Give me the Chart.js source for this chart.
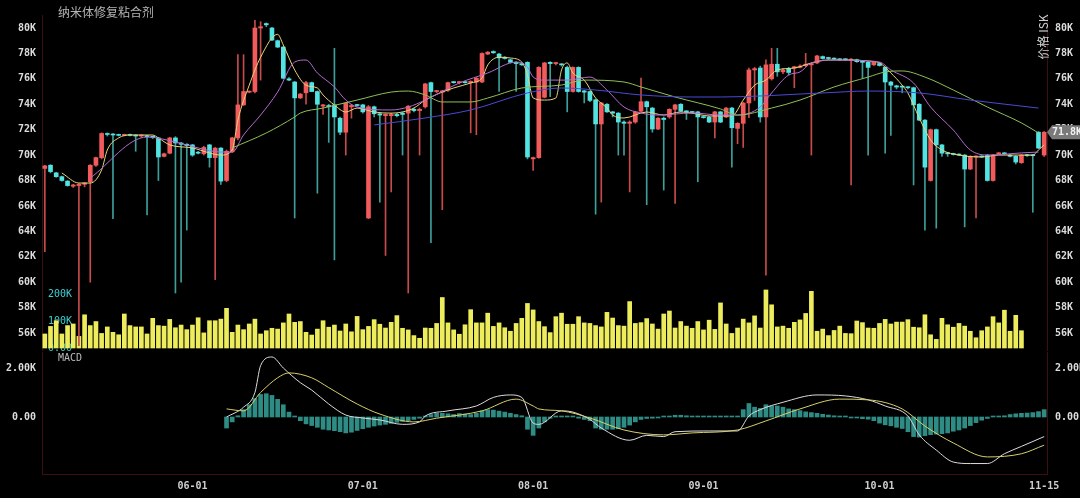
<!DOCTYPE html>
<html><head><meta charset="utf-8">
<script src="https://cdn.jsdelivr.net/npm/chart.js@4.4.1/dist/chart.umd.min.js"></script>
<style>
html,body{margin:0;padding:0;background:#000;overflow:hidden;}
#wrap{position:relative;width:1080px;height:498px;background:#000;}
#c1{position:absolute;left:0;top:0;}
#c2{position:absolute;left:0;top:350px;}
</style></head><body>
<div id="wrap">
<canvas id="c1" width="1080" height="351"></canvas>
<canvas id="c2" width="1080" height="148"></canvas>
</div>
<script>
// ---------- DATA (prices in K ISK, volume in K) ----------
const title = '纳米体修复粘合剂';
const axisTitle = '价格 ISK';
const tickIdx = [26, 56, 86, 116, 147, 176];
const tickText = ['06-01', '07-01', '08-01', '09-01', '10-01', '11-15'];
const priceTicks = [56, 58, 60, 62, 64, 66, 68, 70, 72, 74, 76, 78, 80];
const volTicks = [0, 100, 200];
const macdTicks = [0, 2];
const lastPrice = 71.8;

const opens = [68.95,69.2,68.6,68.3,67.95,67.55,67.6,67.7,67.9,69.2,69.8,71.7,71.65,71.6,71.55,71.6,71.55,71.5,71.5,71.45,
71.35,69.9,70.15,71.35,70.95,70.85,70.8,70.2,70.1,70.8,69.8,70.55,68.0,70.25,71.35,73.95,74.95,75.0,80.0,80.35,
80.0,79.0,78.5,76.0,75.75,74.5,74.9,75.7,75.0,73.85,73.9,73.95,72.9,71.8,73.8,73.95,73.95,65.05,73.8,73.25,
73.1,73.1,73.2,73.3,73.3,73.6,73.5,73.8,75.7,75.0,74.95,75.1,75.75,75.7,75.75,75.7,75.75,75.75,77.95,78.15,
77.95,77.7,77.5,77.3,77.2,77.3,69.7,69.8,74.55,77.3,77.2,77.15,76.9,75.0,76.9,75.05,75.0,74.35,72.45,74.0,
73.4,73.3,72.6,72.5,72.6,73.45,74.2,73.7,72.05,72.9,73.0,73.6,74.0,73.45,73.4,73.4,73.0,73.0,72.6,73.4,
73.0,73.7,72.1,72.5,74.1,76.7,76.85,73.0,76.0,77.15,76.55,76.8,76.85,76.9,77.05,77.1,77.25,77.75,77.65,77.6,
77.55,77.55,77.45,77.5,77.35,77.3,77.1,77.2,76.9,75.75,75.45,75.4,75.35,75.3,74.0,72.75,68.0,72.0,70.8,70.15,
70.1,70.05,70.0,68.9,69.85,69.9,70.0,68.0,70.1,70.15,70.0,69.9,69.4,70.0,70.0,71.8,70.0];
const highs = [69.2,69.25,68.65,68.35,68.0,67.7,67.75,67.85,69.25,69.85,71.75,71.75,71.7,71.65,71.65,71.65,71.6,71.6,71.55,71.5,
71.4,70.15,71.4,71.45,71.0,70.9,70.85,70.3,70.7,70.85,70.6,70.6,70.4,71.4,77.9,77.9,75.05,80.6,80.5,80.4,
80.05,79.05,78.55,76.1,75.8,74.85,75.8,75.75,75.05,74.0,74.0,78.4,73.0,74.15,74.0,74.0,74.0,73.9,73.85,73.3,
73.25,73.3,73.3,73.4,73.9,73.7,73.7,75.65,75.75,75.1,75.1,75.75,75.8,75.8,75.8,75.85,76.1,78.05,78.15,78.2,
78.0,77.75,77.55,77.35,77.25,77.35,69.85,76.95,77.3,77.35,77.3,77.2,77.0,76.95,76.95,75.1,75.05,74.4,74.15,74.05,
73.45,73.35,72.7,72.7,73.45,76.05,74.25,73.75,72.95,73.0,73.65,74.0,74.05,73.5,73.45,73.45,73.05,73.05,73.45,73.45,
73.75,73.75,72.55,74.15,76.85,76.9,77.0,77.5,78.4,78.4,76.8,76.9,77.0,77.1,78.0,77.25,77.85,77.8,77.7,77.65,
77.6,77.6,77.6,77.55,77.4,77.35,77.4,77.3,76.95,75.8,75.5,75.45,75.4,75.35,74.05,72.8,72.05,72.05,70.85,70.2,
70.15,70.1,70.05,69.95,69.95,69.95,70.05,70.05,70.2,70.2,70.05,69.95,70.05,70.05,70.05,71.85,71.85];
const lows = [62.4,68.6,68.25,67.95,67.55,67.45,55.0,67.5,60.0,69.1,69.7,71.5,65.0,71.5,71.5,71.5,70.3,71.4,65.3,71.3,
68.0,69.85,70.1,59.15,60.0,64.1,69.9,70.1,70.0,69.05,60.2,67.7,67.9,70.2,71.2,73.9,74.9,74.9,75.9,80.1,
79.0,78.45,76.0,75.85,65.05,74.45,74.0,75.0,67.0,73.2,71.0,61.75,71.6,70.0,72.9,73.85,73.3,65.0,73.0,66.3,
62.1,67.1,73.0,70.0,59.15,73.4,70.0,73.7,63.1,74.9,65.7,75.0,75.65,75.6,75.65,71.75,71.6,75.7,77.9,78.0,
75.0,77.55,77.25,75.0,77.05,69.7,68.8,69.75,74.5,74.6,77.1,77.0,73.4,74.95,74.95,74.1,74.2,65.35,66.3,73.35,
73.0,70.0,70.0,67.1,72.5,73.4,66.1,71.8,72.0,67.25,72.9,66.2,73.4,72.8,73.3,67.9,72.9,72.55,71.35,72.55,
72.95,69.05,70.9,70.6,72.95,74.3,72.6,60.55,75.9,76.2,76.4,76.3,75.3,76.85,76.95,70.0,77.2,77.55,77.5,77.5,
77.45,77.45,67.65,77.3,76.05,70.0,77.05,77.0,70.15,71.55,75.2,74.9,75.2,67.65,72.7,64.1,67.95,64.25,69.9,69.9,
70.0,69.95,64.35,68.85,65.05,69.8,67.95,67.95,70.05,70.05,69.85,69.3,69.35,69.9,65.5,70.5,69.9];
const closes = [69.15,68.7,68.3,68.0,67.6,67.65,67.7,67.8,69.2,69.8,71.7,71.62,71.58,71.55,71.6,71.55,71.5,71.55,71.45,71.4,
69.85,70.1,71.35,70.95,70.85,70.75,70.0,70.15,70.6,69.8,70.55,67.95,70.3,71.35,73.95,75.0,75.02,80.0,80.1,80.25,
79.05,78.5,76.05,75.9,74.5,74.8,75.7,75.0,74.0,73.95,73.8,73.0,71.8,74.1,73.9,73.9,73.4,73.8,73.25,73.15,
73.2,73.2,73.1,73.2,73.85,73.5,73.6,75.6,75.0,75.05,75.05,75.7,75.7,75.75,75.7,75.8,76.05,78.0,78.1,78.05,
77.65,77.6,77.3,77.2,77.1,69.85,69.8,76.9,77.25,77.2,77.25,77.1,75.0,76.9,75.0,74.95,74.3,72.45,74.1,73.4,
73.3,72.6,72.5,72.6,73.4,74.2,73.8,72.05,72.9,72.8,73.6,73.95,73.45,73.4,73.35,73.0,72.95,72.6,73.4,72.6,
73.7,72.15,72.5,74.1,76.7,76.8,73.0,77.1,77.15,76.55,76.7,76.5,76.95,77.0,77.15,77.2,77.8,77.6,77.6,77.55,
77.5,77.5,77.55,77.35,77.3,76.9,77.35,77.05,75.75,75.5,75.35,75.35,75.3,73.95,72.75,69.05,72.0,70.8,70.15,70.1,
70.05,70.0,68.9,69.9,69.9,69.85,68.0,70.0,70.15,70.1,69.9,69.45,70.0,69.95,69.95,70.55,71.8];

const volumes = [52,80,101,52,83,89,43,123,83,98,54,78,58,49,126,83,78,78,52,110,83,81,106,75,85,68,85,112,56,101,
101,107,147,58,85,68,89,107,52,64,73,70,93,126,95,98,58,48,70,101,77,85,63,89,60,117,
68,80,105,88,74,95,120,73,67,46,36,74,73,91,187,93,67,51,86,142,93,93,129,80,93,75,62,91,110,165,
141,98,79,57,116,129,88,88,116,93,91,83,78,132,111,83,81,172,91,94,109,89,70,126,137,74,98,81,73,98,
67,103,69,
167,89,54,74,107,93,119,74,215,160,78,81,73,95,104,128,210,62,70,46,65,81,54,53,100,94,74,73,91,106,
89,96,96,105,77,75,123,49,32,110,86,77,91,81,62,38,64,78,116,93,140,62,121,64];

// moving averages: [candle index, value]
const ma5Pts = [[3,68.59],[6,67.8],[8,67.8],[10,68.83],[11,70.4],[13,71.35],[15,71.58],[19,71.58],[20,71.35],[22,70.8],
[26,70.56],[29,70.17],[31,70.0],[33,70.4],[34,72.76],[36,75.5],[38,77.7],[41,79.5],[42,78.66],[44,76.7],[46,75.5],
[48,75.28],[49,74.73],[51,73.94],[53,73.39],[55,73.7],[58,73.39],[61,73.3],[63,73.39],[65,73.7],[67,74.33],[70,74.96],
[72,75.28],[75,75.67],[77,76.07],[78,77.09],[80,77.7],[82,77.64],[84,77.32],[85,76.3],[86,74.49],[88,74.33],[90,74.49],
[91,76.7],[92,77.25],[93,76.46],[95,75.9],[97,74.49],[99,73.7],[100,73.15],[102,72.92],[106,73.39],[109,73.15],
[112,73.39],[114,73.3],[117,73.08],[121,73.08],[123,74.33],[125,75.5],[127,75.9],[129,76.7],[132,76.85],[135,77.25],
[138,77.48],[142,77.48],[145,77.4],[147,77.25],[149,76.46],[151,75.5],[152,74.89],[154,72.92],[156,71.19],[158,70.4],
[161,70.0],[165,69.85],[168,70.0],[172,70.0],[174,70.0],[175,70.4],[176,70.8]];
const ma10Pts = [[8,68.2],[18,71.42],[23,71.03],[27,70.56],[31,70.24],[33,70.24],[35,71.58],[38,73.15],[41,74.96],
[44,77.32],[46,77.48],[48,76.46],[51,75.36],[53,74.33],[55,73.78],[61,73.55],[64,73.78],[67,74.33],[73,75.67],
[78,76.46],[83,77.32],[85,76.93],[86,76.14],[88,75.9],[92,75.9],[96,76.14],[99,75.12],[102,73.78],[105,73.31],
[108,73.15],[114,73.31],[119,73.15],[122,73.15],[126,73.78],[128,74.89],[131,76.3],[133,76.54],[135,77.25],
[139,77.48],[147,77.32],[149,76.7],[153,75.67],[156,73.78],[160,71.97],[163,70.4],[166,70.0],[172,70.17],[175,70.24]];
const ma30Pts = [[33,70.56],[39,71.74],[44,73.0],[45,73.31],[49,73.7],[55,74.33],[61,74.96],[64,75.04],[67,74.73],
[70,74.18],[75,74.18],[78,74.49],[84,75.28],[91,75.51],[95,75.9],[102,75.75],[105,75.36],[111,74.57],[119,73.63],
[122,73.15],[128,73.7],[133,74.33],[139,75.36],[145,76.14],[148,76.54],[151,76.62],[155,76.14],[160,75.12],
[166,73.78],[172,72.53],[175,71.74]];
const ma60Pts = [[58,72.37],[67,72.92],[75,73.55],[85,74.89],[91,75.28],[97,75.12],[105,74.73],[114,74.57],
[119,74.57],[137,74.89],[145,75.04],[154,74.89],[163,74.33],[175,73.7]];

// MACD (K): DIF, DEA points and histogram from index 32
const difPts = [[32,0.0],[35,0.4],[37,1.0],[38,2.1],[40,2.45],[42,2.0],[45,1.4],[47,1.1],[50,0.53],[53,0.08],[56,-0.04],
[59,-0.12],[63,-0.3],[66,-0.2],[67,0.04],[71,0.25],[76,0.45],[79,0.8],[82,0.9],[84,0.8],[86,-0.25],[87,-0.3],[91,0.25],
[93,0.2],[96,-0.1],[98,-0.45],[103,-0.95],[106,-0.75],[109,-0.8],[111,-0.6],[117,-0.57],[122,-0.57],[124,0.04],
[126,0.3],[130,0.6],[136,0.9],[141,0.86],[145,0.7],[148,0.45],[152,0.04],[154,-0.73],[157,-1.35],[160,-1.84],
[163,-1.9],[166,-1.9],[169,-1.5],[172,-1.2],[176,-0.8]];
const deaPts = [[32,0.33],[35,0.25],[38,1.0],[41,1.6],[43,1.8],[47,1.6],[50,1.2],[55,0.53],[59,0.12],[65,-0.2],
[69,-0.05],[77,0.25],[83,0.73],[86,0.45],[87,0.33],[91,0.25],[96,-0.04],[102,-0.53],[109,-0.73],[114,-0.65],
[122,-0.53],[127,-0.16],[133,0.33],[140,0.73],[145,0.7],[151,0.33],[155,-0.37],[160,-1.06],[166,-1.63],[172,-1.5],[176,-1.15]];
const histStart = 32;
const histValues = [-0.45,-0.2,0.05,0.3,0.5,0.75,0.92,0.95,0.88,0.72,0.5,0.2,0.03,
-0.15,-0.28,-0.35,-0.42,-0.5,-0.53,-0.56,-0.6,-0.65,-0.62,-0.55,-0.48,-0.42,-0.37,-0.33,-0.3,-0.26,-0.22,-0.18,-0.15,-0.1,-0.05,
0.04,0.1,0.15,0.15,0.13,0.1,0.14,0.12,0.1,0.15,0.25,0.3,0.28,0.24,0.2,0.15,0.1,0.05,
-0.5,-0.75,-0.45,-0.2,
-0.05,0.02,0.02,0.02,0.02,-0.05,-0.1,-0.15,-0.45,-0.5,-0.5,-0.5,-0.48,-0.42,-0.33,-0.2,-0.1,-0.06,-0.05,-0.03,0.02,
0.04,0.07,0.07,0.05,0.04,0.03,0.03,0.02,0.03,0.02,0.02,0.02,0.03,0.3,0.55,0.4,0.35,0.5,0.45,0.45,0.4,0.33,0.3,0.26,
0.21,0.18,0.15,0.11,0.08,0.05,0.03,0.02,-0.02,-0.04,-0.07,-0.09,-0.15,-0.25,-0.32,-0.36,-0.42,-0.47,-0.6,-0.8,-0.82,
-0.76,-0.72,-0.7,-0.68,-0.65,-0.58,-0.53,-0.45,-0.35,-0.23,-0.13,-0.06,0.02,0.03,0.05,0.1,0.13,0.15,0.16,0.18,0.22,0.3];

// ---------- BUILD ----------
const N = opens.length;
const labels = Array.from({length: N}, (_, i) => { const k = tickIdx.indexOf(i); return k >= 0 ? tickText[k] : ''; });
function sparse(pts) { const a = new Array(N).fill(null); pts.forEach(([i, v]) => { a[i] = v; }); return a; }
const volData = new Array(N).fill(null); volumes.forEach((v, i) => { volData[i] = v; });
const histData = new Array(N).fill(null); histValues.forEach((v, k) => { histData[histStart + k] = v; });

const UP = '#f25b5b', DOWN = '#52e3e3', UPW = '#c64b4b', DOWNW = '#3d9e9a';
const isUp = i => closes[i] >= opens[i];
const AXIS = '#3b1010';
const MONO = '"DejaVu Sans Mono", monospace';
const CJK = '"Noto Sans CJK SC", sans-serif';
const tickFont = {family: MONO, size: 10, weight: 'bold'};

function noPad(s) { s.paddingTop = 0; s.paddingBottom = 0; s.paddingLeft = 0; s.paddingRight = 0; }
function lineDs(data, color, axis) {
  return {type: 'line', data, yAxisID: axis, borderColor: color, borderWidth: 1, pointRadius: 0,
    spanGaps: true, cubicInterpolationMode: 'monotone', order: 1};
}
function priceAxis(pos, width, pad) {
  return {position: pos, min: 54.662, max: 81.023, weight: 2,
    afterFit: s => { s.width = width; noPad(s); },
    afterBuildTicks: s => { s.ticks = priceTicks.map(v => ({value: v})); },
    ticks: {color: '#dcdcdc', font: tickFont, padding: pad, callback: v => v + 'K'},
    grid: {display: false, drawTicks: false}, border: {display: true, color: AXIS}};
}
function macdAxis(pos, width, pad) {
  return {position: pos, min: -2.327, max: 2.653,
    afterFit: s => { s.width = width; noPad(s); },
    afterBuildTicks: s => { s.ticks = macdTicks.map(v => ({value: v})); },
    ticks: {color: '#dcdcdc', font: tickFont, padding: pad, callback: v => v === 0 ? '0.00' : v.toFixed(2) + 'K'},
    grid: {display: false, drawTicks: false}, border: {display: true, color: AXIS}};
}

const overlay1 = {
  id: 'overlay1',
  afterDraw(chart) {
    const ctx = chart.ctx;
    ctx.save();
    ctx.fillStyle = '#b4b4b4';
    ctx.font = '12px ' + CJK;
    ctx.textBaseline = 'middle';
    ctx.textAlign = 'left';
    ctx.fillText(title, 58, 12);
    ctx.save();
    ctx.translate(1043, 37);
    ctx.rotate(-Math.PI / 2);
    ctx.textAlign = 'center';
    ctx.fillStyle = '#d0d0d0';
    ctx.fillText(axisTitle, 0, 0);
    ctx.restore();
    const y = chart.scales.y.getPixelForValue(lastPrice);
    ctx.fillStyle = '#7a7a7a';
    ctx.beginPath();
    ctx.moveTo(1047, y); ctx.lineTo(1052, y - 7); ctx.lineTo(1082, y - 7);
    ctx.lineTo(1082, y + 7); ctx.lineTo(1052, y + 7); ctx.closePath(); ctx.fill();
    ctx.fillStyle = '#f2f2f2';
    ctx.font = 'bold 10px ' + MONO;
    ctx.textAlign = 'left';
    ctx.fillText(lastPrice.toFixed(1) + 'K', 1052, y + 0.5);
    ctx.restore();
  }
};
const overlay2 = {
  id: 'overlay2',
  afterDraw(chart) {
    const ctx = chart.ctx;
    ctx.save();
    ctx.fillStyle = '#bbbbbb';
    ctx.font = '10px ' + MONO;
    ctx.textBaseline = 'middle';
    ctx.fillText('MACD', 58, 8);
    ctx.restore();
  }
};

Chart.defaults.font.family = MONO;

new Chart(document.getElementById('c1'), {
  type: 'bar',
  data: {
    labels,
    datasets: [
      {data: volData, yAxisID: 'yv', backgroundColor: '#ecec5c', barThickness: 4, grouped: false, order: 10},
      {data: lows.map((l, i) => [l, highs[i]]), yAxisID: 'y', backgroundColor: lows.map((_, i) => isUp(i) ? UPW : DOWNW),
        barThickness: 1, grouped: false, order: 5},
      {data: opens.map((o, i) => [o, closes[i]]), yAxisID: 'y', backgroundColor: opens.map((_, i) => isUp(i) ? UP : DOWN),
        barThickness: 4, minBarLength: 1, grouped: false, order: 4},
      lineDs(sparse(ma60Pts), '#4a4ad6', 'y'),
      lineDs(sparse(ma30Pts), '#8fbf55', 'y'),
      lineDs(sparse(ma10Pts), '#b46ad0', 'y'),
      lineDs(sparse(ma5Pts), '#e6d47a', 'y')
    ]
  },
  options: {
    responsive: false, animation: false,
    layout: {padding: {top: 15, bottom: 1, left: 0, right: 0}},
    plugins: {legend: {display: false}, tooltip: {enabled: false}},
    scales: {
      x: {type: 'category', display: false, offset: true, grid: {display: false}, afterFit: noPad},
      y: priceAxis('left', 42, 6),
      yr: priceAxis('right', 33, 8),
      yv: {position: 'left', weight: 1, min: -7.4, max: 1233.3,
        afterFit: s => { s.width = 0; noPad(s); },
        afterBuildTicks: s => { s.ticks = volTicks.map(v => ({value: v})); },
        ticks: {mirror: true, color: '#3fd0d0', font: {family: MONO, size: 10}, padding: 6,
          callback: v => v === 0 ? '0.00' : v + 'K'},
        grid: {display: false, drawTicks: false}, border: {display: false}}
    }
  },
  plugins: [overlay1]
});

new Chart(document.getElementById('c2'), {
  type: 'bar',
  data: {
    labels,
    datasets: [
      {data: histData, yAxisID: 'm', backgroundColor: '#2e8c85', barThickness: 4, minBarLength: 1, grouped: false, order: 3},
      lineDs(sparse(deaPts), '#d8cf6c', 'm'),
      lineDs(sparse(difPts), '#dcdcdc', 'm')
    ]
  },
  options: {
    responsive: false, animation: false,
    layout: {padding: {top: 2, bottom: 0, left: 0, right: 0}},
    plugins: {legend: {display: false}, tooltip: {enabled: false}},
    scales: {
      x: {type: 'category', offset: true,
        afterFit: s => { s.height = 24; noPad(s); },
        ticks: {autoSkip: false, maxRotation: 0, minRotation: 0, color: '#cfcfcf', font: tickFont, padding: 6,
          callback: (v, i) => labels[i]},
        grid: {display: false, drawTicks: false}, border: {display: true, color: AXIS}},
      m: macdAxis('left', 42, 6),
      mr: macdAxis('right', 33, 8)
    }
  },
  plugins: [overlay2]
});
</script>
</body></html>
